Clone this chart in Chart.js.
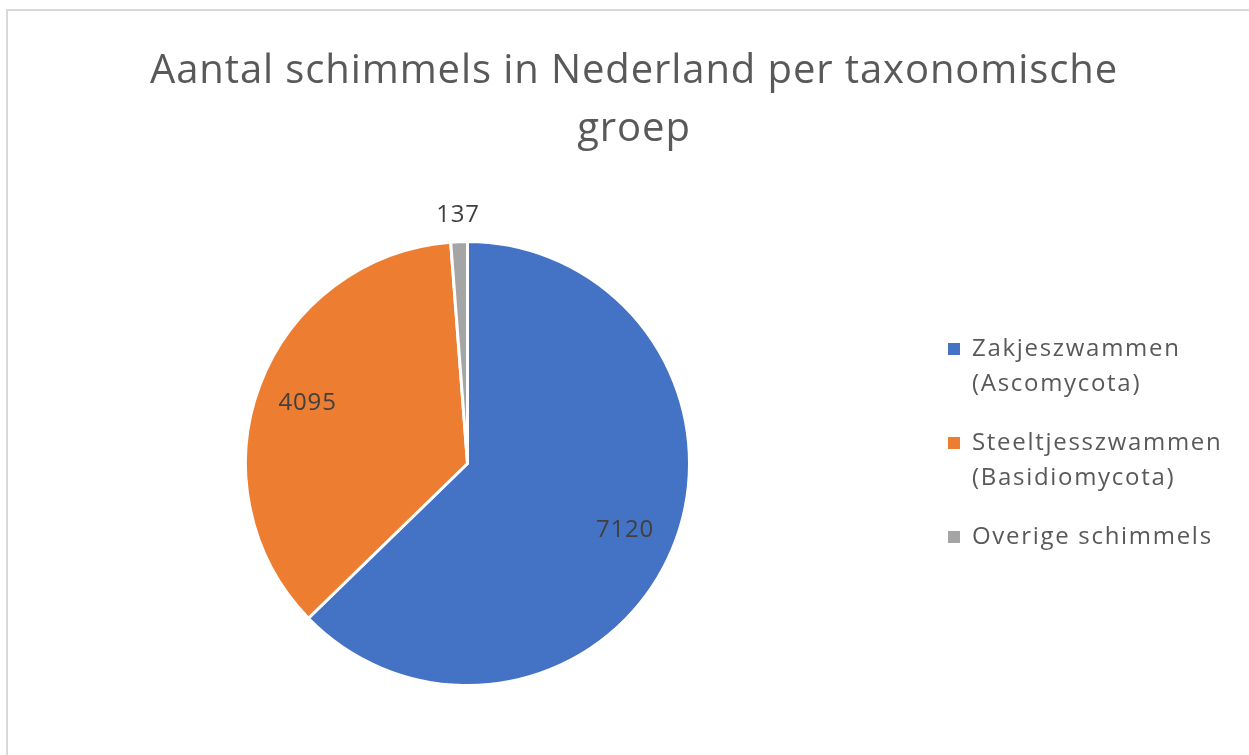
<!DOCTYPE html>
<html>
<head>
<meta charset="utf-8">
<script src="https://cdn.jsdelivr.net/npm/chart.js@4/dist/chart.umd.min.js"></script>
<style>
  html, body { margin: 0; padding: 0; background: #fff; overflow: hidden; }
  #frame { position: absolute; left: 6px; top: 9px; width: 1270px; height: 770px; border: 2px solid #d9d9d9; box-sizing: border-box; }
  #wrap { position: absolute; left: 0; top: 0; width: 1266px; height: 755px; }
</style>
</head>
<body>
<div id="frame"></div>
<div id="wrap"><canvas id="pieChart"></canvas></div>
<script>
const categories = [['Zakjeszwammen', '(Ascomycota)'], ['Steeltjesszwammen', '(Basidiomycota)'], ['Overige schimmels']];
const counts = [7120, 4095, 137];
const sliceColors = ['#4472C4', '#ED7D31', '#A5A5A5'];
const chartTitle = ['Aantal schimmels in Nederland per taxonomische', 'groep'];

// titel over de volle breedte
const wideTitle = {
  id: 'wideTitle',
  afterDraw(chart) {
    const ctx = chart.ctx;
    ctx.save();
    ctx.font = '40px "Open Sans"';
    ctx.fillStyle = '#595959';
    ctx.textAlign = 'center';
    ctx.textBaseline = 'middle';
    ctx.letterSpacing = '0.9px';
    chartTitle.forEach((t, i) => ctx.fillText(t, 634, 72 + i * 58));
    ctx.restore();
  }
};

// waarden op de taartpunten
const sliceLabels = {
  id: 'sliceLabels',
  afterDatasetsDraw(chart) {
    const ctx = chart.ctx;
    const meta = chart.getDatasetMeta(0);
    const total = counts.reduce((a, b) => a + b, 0);
    ctx.save();
    ctx.font = '24px "Open Sans"';
    ctx.fillStyle = '#404040';
    ctx.textAlign = 'center';
    ctx.textBaseline = 'middle';
    ctx.letterSpacing = '0.8px';
    meta.data.forEach((arc, i) => {
      const mid = (arc.startAngle + arc.endAngle) / 2;
      const small = counts[i] / total < 0.05;
      const r = small ? arc.outerRadius + 27 : arc.outerRadius * 0.77;
      const x = arc.x + Math.cos(mid) * r;
      const y = arc.y + Math.sin(mid) * r;
      ctx.fillText(String(counts[i]), x, y);
    });
    ctx.restore();
  }
};

// legenda rechts, met labels over twee regels
const sideLegend = {
  id: 'sideLegend',
  afterDraw(chart) {
    const ctx = chart.ctx;
    const x0 = 948, lineH = 35.5, gap = 23;
    let y = 349;
    ctx.save();
    ctx.font = '24px "Open Sans"';
    ctx.textBaseline = 'middle';
    ctx.textAlign = 'left';
    ctx.letterSpacing = '1.7px';
    categories.forEach((lines, i) => {
      ctx.fillStyle = sliceColors[i];
      ctx.fillRect(x0, y - 6, 12, 12);
      ctx.fillStyle = '#595959';
      lines.forEach((t, j) => ctx.fillText(t, x0 + 24, y + j * lineH));
      y += lines.length * lineH + gap;
    });
    ctx.restore();
  }
};

const ctx = document.getElementById('pieChart').getContext('2d');
new Chart(ctx, {
  type: 'pie',
  data: {
    labels: categories,
    datasets: [{
      data: counts,
      backgroundColor: sliceColors,
      borderColor: '#ffffff',
      borderWidth: 3
    }]
  },
  options: {
    responsive: true,
    maintainAspectRatio: false,
    animation: false,
    layout: { padding: { left: 244, right: 575, top: 240, bottom: 68 } },
    plugins: {
      legend: { display: false },
      tooltip: { enabled: false },
      title: { display: false }
    }
  },
  plugins: [wideTitle, sliceLabels, sideLegend]
});
</script>
</body>
</html>
